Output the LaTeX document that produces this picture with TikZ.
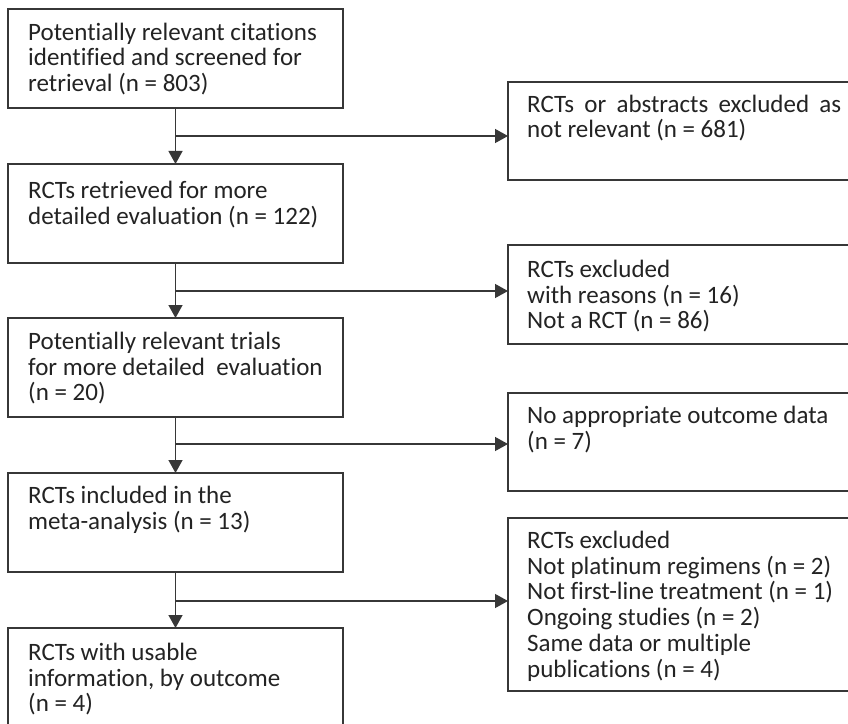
\documentclass[tikz,border=0pt]{standalone}
\usepackage{fontspec}
\setmainfont{Carlito}[Ligatures=NoCommon]
\usetikzlibrary{arrows.meta}
\definecolor{boxc}{RGB}{55,55,55}
\definecolor{txtc}{RGB}{35,35,35}
\newcommand{\toprule}{\rule{0pt}{22bp}}
\begin{document}
\begin{tikzpicture}[x=1bp,y=-1bp,
  box/.style={draw=boxc, line width=1.3bp, inner sep=0pt, outer sep=0pt, anchor=north west},
  txt/.style={anchor=north west, inner sep=0pt, align=left, text=txtc, font=\fontsize{25bp}{25.8bp}\selectfont},
  arr/.style={draw=boxc, line width=1.3bp, -{Triangle[width=14bp,length=13bp]}},
  ln/.style={draw=boxc, line width=1.3bp}]
\useasboundingbox (0,0) rectangle (848,724);
\clip (0,0) rectangle (848,724);
\fill[white] (0,0) rectangle (848,724);
% left column
\node[box, minimum width=335bp, minimum height=99bp] (b1) at (8,9) {};
\node[box, minimum width=335bp, minimum height=99bp] (b2) at (8,164) {};
\node[box, minimum width=335bp, minimum height=99bp] (b3) at (8,318) {};
\node[box, minimum width=335bp, minimum height=99bp] (b4) at (8,473) {};
\node[box, minimum width=335bp, minimum height=120bp] (b5) at (8,628) {};
% right column
\node[box, minimum width=360bp, minimum height=98bp] (r1) at (508,82) {};
\node[box, minimum width=360bp, minimum height=99bp] (r2) at (508,245) {};
\node[box, minimum width=360bp, minimum height=98bp] (r3) at (508,393) {};
\node[box, minimum width=360bp, minimum height=173bp] (r4) at (508,518) {};
% texts (first baseline = y + 22)
\node[txt] (t1) at (28,18) {\toprule Potentially relevant citations\\identified and screened for\\retrieval (n = 803)};
\node[txt] (t2) at (28,176) {\toprule RCTs retrieved for more\\detailed evaluation (n = 122)};
\node[txt] (t3) at (28,327) {\toprule Potentially relevant trials\\for more detailed\ \ evaluation\\(n = 20)};
\node[txt] (t4) at (28,481) {\toprule RCTs included in the\\meta-analysis (n = 13)};
\node[txt] (t5) at (28,638) {\toprule RCTs with usable\\information, by outcome\\(n = 4)};
\node[txt] (s1) at (527,90) {\toprule\makebox[314bp][s]{RCTs or abstracts excluded as}\\not relevant (n = 681)};
\node[txt] (s2) at (527,255) {\toprule RCTs excluded\\with reasons (n = 16)\\Not a RCT (n = 86)};
\node[txt] (s3) at (527,401) {\toprule No appropriate outcome data\\(n = 7)};
\node[txt] (s4) at (527,526) {\toprule RCTs excluded\\Not platinum regimens (n = 2)\\Not first-line treatment (n = 1)\\Ongoing studies (n = 2)\\Same data or multiple\\publications (n = 4)};
% connectors
\path (b1.south) ++(0,28) coordinate (j1);
\path (b2.south) ++(0,28) coordinate (j2);
\path (b3.south) ++(0,27) coordinate (j3);
\path (b4.south) ++(0,29) coordinate (j4);
\draw[arr] (b1.south) -- (b2.north);
\draw[arr] (b2.south) -- (b3.north);
\draw[arr] (b3.south) -- (b4.north);
\draw[arr] (b4.south) -- (b5.north);
\draw[arr] (j1) -- (j1 -| r1.west);
\draw[arr] (j2) -- (j2 -| r2.west);
\draw[arr] (j3) -- (j3 -| r3.west);
\draw[arr] (j4) -- (j4 -| r4.west);
\end{tikzpicture}
\end{document}
